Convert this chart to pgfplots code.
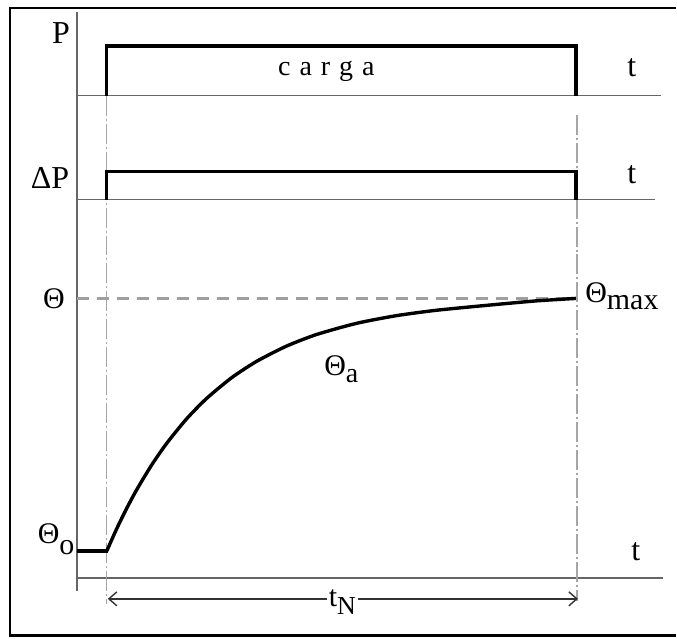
\documentclass[border=0pt]{standalone}
\usepackage{fontspec}
\setmainfont{Liberation Serif}
\usepackage{pgfplots}
\pgfplotsset{compat=1.18}
\usetikzlibrary{arrows.meta}

% lowered subscript set in the text font
\newcommand{\sub}[3][-0.55ex]{\raisebox{#1}{\fontsize{#2}{#2}\selectfont #3}}

\begin{document}
\begin{tikzpicture}
\begin{axis}[
  width=338.5pt, height=320pt, scale only axis,
  xmin=0, xmax=677, ymin=0, ymax=640,
  hide axis, clip=false,
  guide/.style={gray!70, line width=0.6pt,
    dash pattern=on 10pt off 1.5pt on 1pt off 1.5pt},
  base/.style={gray!80!black, line width=0.7pt},
  signal/.style={black, line width=1.7pt, line join=miter},
]
% page area and outer frame
\path (axis cs:0,0) rectangle (axis cs:677,640);
\draw[line width=1.3pt] (axis cs:677,632) -- (axis cs:10,632)
  -- (axis cs:10,3) -- (axis cs:677,3);

% time axes and the vertical reference line
\addplot[base] coordinates {(77,628) (77,48)};
\addplot[base] coordinates {(77,544) (662,544)};
\addplot[base] coordinates {(77,440) (656,440)};
\addplot[base] coordinates {(77,61) (664,61)};

% switching instants
\addplot[guide] coordinates {(107,544) (107,35)};
\addplot[guide] coordinates {(578,525) (578,38)};

% load P
\addplot[signal] coordinates {(107,544) (107,594) (577,594) (577,544)};
% losses Delta P
\addplot[signal] coordinates {(107,440) (107,468) (577,468) (577,440)};

% final temperature level
\addplot[gray!75, line width=1.3pt, dash pattern=on 6pt off 4pt]
  coordinates {(77,341) (577,341)};

% initial temperature before switching on
\addplot[signal] coordinates {(77,88) (108,88)};
% temperature rise
\addplot[black, line width=1.7pt, smooth, tension=0.4] coordinates {
  (107,88) (117,110.4) (127,130.8) (137,149.4) (152,174.2)
  (167,195.8) (187,220.4) (207,240.8) (232,261.5) (257,277.9)
  (287,293.2) (317,304.8) (357,316.0) (397,323.7) (437,329.1)
  (487,334.0) (537,338.5) (577,341)};

% duration t_N
\draw[gray!40!black, line width=0.7pt,
  {Straight Barb[length=4pt,width=7pt]}-{Straight Barb[length=4pt,width=7pt]}]
  (axis cs:108,40) -- (axis cs:579,40);
\node[fill=white, inner sep=1pt] at (axis cs:343,37)
  {\fontsize{15}{15}\selectfont t\sub{13}{N}};

% labels
\node at (axis cs:61,607) {\fontsize{16}{16}\selectfont P};
\node at (axis cs:50,462) {\fontsize{16}{16}\selectfont ΔP};
\node at (axis cs:327,569) {\fontsize{14}{14}\selectfont
  c\hspace{4.5pt}a\hspace{4.5pt}r\hspace{4.5pt}g\hspace{4.5pt}a};
\node at (axis cs:633,572) {\fontsize{16}{16}\selectfont t};
\node at (axis cs:633,465) {\fontsize{16}{16}\selectfont t};
\node at (axis cs:637,87) {\fontsize{16}{16}\selectfont t};
\node at (axis cs:54,341) {\fontsize{15}{15}\selectfont Θ};
\node[anchor=west, inner sep=0pt] at (axis cs:586,343)
  {\fontsize{15}{15}\selectfont Θ\sub{15}{max}};
\node at (axis cs:342,270) {\fontsize{15}{15}\selectfont Θ\sub{14}{a}};
\node[anchor=east, inner sep=0pt] at (axis cs:75,100)
  {\fontsize{15}{15}\selectfont Θ\sub[-0.8ex]{15}{o}};
\end{axis}
\end{tikzpicture}
\end{document}
